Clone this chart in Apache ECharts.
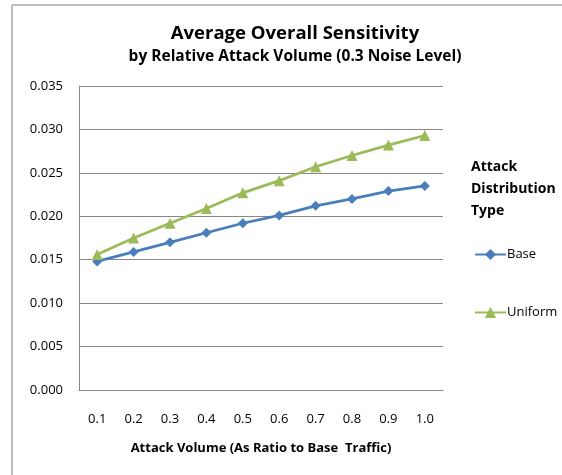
<!DOCTYPE html>
<html>
<head>
<meta charset="utf-8">
<script src="https://cdn.jsdelivr.net/npm/echarts@6/dist/echarts.min.js"></script>
<style>
  html, body { margin: 0; padding: 0; background: #fff; }
  #chart { width: 562px; height: 475px; }
</style>
</head>
<body>
<div id="chart"></div>
<script>
// Attack volume ratios (x categories)
const attackVolume = ['0.1', '0.2', '0.3', '0.4', '0.5', '0.6', '0.7', '0.8', '0.9', '1.0'];
// Average overall sensitivity per distribution type
const baseValues = [0.0148, 0.0159, 0.0170, 0.0181, 0.0192, 0.0201, 0.0212, 0.0220, 0.0229, 0.0235];
const uniformValues = [0.0156, 0.0175, 0.0192, 0.0209, 0.0227, 0.0241, 0.0257, 0.0270, 0.0282, 0.0293];
const seriesNames = ['Base', 'Uniform'];

const FONT = '"Open Sans", Lato, sans-serif';
const chart = echarts.init(document.getElementById('chart'));

chart.setOption({
  backgroundColor: '#ffffff',
  animation: false,
  title: [{
    text: 'Average Overall Sensitivity',
    left: 290, top: 19, textAlign: 'center',
    textStyle: { fontFamily: FONT, fontSize: 18.5, fontWeight: 'bold', color: '#000' }
  }, {
    text: 'by Relative Attack Volume (0.3 Noise Level)',
    left: 290, top: 44, textAlign: 'center',
    textStyle: { fontFamily: FONT, fontSize: 15.5, fontWeight: 'bold', color: '#000' }
  }],
  graphic: [
    { type: 'line', shape: { x1: 12, y1: 5, x2: 562, y2: 5 }, style: { stroke: '#a6a6a6', lineWidth: 1.5 } },
    { type: 'line', shape: { x1: 12, y1: 5, x2: 12, y2: 475 }, style: { stroke: '#a6a6a6', lineWidth: 1.5 } },
    {
      type: 'text', left: 471, top: 156,
      style: {
        text: 'Attack\nDistribution\nType',
        font: 'bold 14px ' + FONT, fill: '#000', lineHeight: 22
      }
    }
  ],
  legend: {
    orient: 'vertical',
    left: 469, top: 243,
    itemGap: 45,
    itemWidth: 31, itemHeight: 14,
    data: seriesNames,
    textStyle: { fontFamily: FONT, fontSize: 13, color: '#000', padding: [0, 0, 0, -4] }
  },
  grid: { left: 79, right: 119, top: 86, bottom: 85, containLabel: false },
  xAxis: {
    type: 'category',
    data: attackVolume,
    boundaryGap: true,
    name: 'Attack Volume (As Ratio to Base  Traffic)',
    nameLocation: 'middle',
    nameGap: 52,
    nameTextStyle: { fontFamily: FONT, fontSize: 13, fontWeight: 'bold', color: '#000' },
    axisLine: { lineStyle: { color: '#878787', width: 1 } },
    axisTick: { show: false },
    axisLabel: { fontFamily: FONT, fontSize: 13, color: '#000', margin: 23 }
  },
  yAxis: {
    type: 'value',
    min: 0, max: 0.035, interval: 0.005,
    axisLine: { show: true, lineStyle: { color: '#878787', width: 1 } },
    axisTick: { show: false },
    splitLine: { lineStyle: { color: '#878787', width: 1 } },
    axisLabel: {
      fontFamily: FONT, fontSize: 13, color: '#000', margin: 16,
      formatter: v => v.toFixed(3)
    }
  },
  series: [{
    name: seriesNames[0],
    type: 'line',
    data: baseValues,
    color: '#4a7ebb',
    symbol: 'diamond', symbolSize: 10,
    lineStyle: { width: 2.75, color: '#4a7ebb' },
    itemStyle: { color: '#4a7ebb' }
  }, {
    name: seriesNames[1],
    type: 'line',
    data: uniformValues,
    color: '#9bbb59',
    symbol: 'triangle', symbolSize: 11,
    lineStyle: { width: 2.75, color: '#9bbb59' },
    itemStyle: { color: '#9bbb59' }
  }]
});
</script>
</body>
</html>
